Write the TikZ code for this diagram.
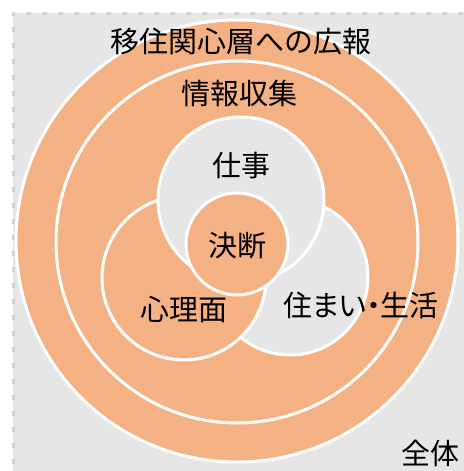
\documentclass[tikz,border=0pt]{standalone}
\usepackage{fontspec}
\setmainfont{Noto Sans CJK JP}
\definecolor{fond}{RGB}{230,230,230}
\definecolor{bord}{RGB}{210,210,210}
\definecolor{peche}{RGB}{244,177,131}
\tikzset{
  cercle/.style={circle, draw=white, line width=3pt, inner sep=0pt},
  etiquette/.style={font=\fontsize{29}{32}\selectfont, inner sep=0pt}
}
\begin{document}
\begin{tikzpicture}[x=1pt, y=-1pt]
    \useasboundingbox (0,0) rectangle (463,471);
    % Fond
    \node[draw=bord, fill=fond, line width=2.5pt, dash pattern=on 5pt off 11pt, minimum width=470pt, minimum height=470pt, inner sep=0pt, anchor=north west] (tout) at (12,12) {};
    
    % Anneaux
    \node[cercle, fill=peche, minimum size=442pt] (global) at (237,241) {};
    \node[cercle, fill=peche, minimum size=362pt] (info) at (237,242) {};
    
    % Trois domaines
    \node[cercle, fill=fond, minimum size=156pt] (logement) at (290,277) {};
    \node[cercle, fill=peche, minimum size=164pt] (psycho) at (184,278) {};
    \node[cercle, fill=fond, minimum size=166pt] (travail) at (241,200) {};
    
    % Centre
    \node[cercle, fill=peche, minimum size=102pt] (decision) at (237,244) {};
    
    % Textes
    \node[etiquette] (tglobal) at (241,42) {移住関心層への広報};
    \node[etiquette] (tinfo) at (239,93) {情報収集};
    \node[etiquette] (ttravail) at (241,166) {仕事};
    \node[etiquette] (tdecision) at (237,246) {決断};
    \node[etiquette] (tpsycho) at (184,310) {心理面};
    \node[etiquette, font=\fontsize{29}{32}\selectfont\addfontfeature{RawFeature=+palt}] (tlogement) at (361,305) {住まい・生活};
    \node[etiquette] (ttout) at (430,453) {全体};
\end{tikzpicture}
\end{document}
